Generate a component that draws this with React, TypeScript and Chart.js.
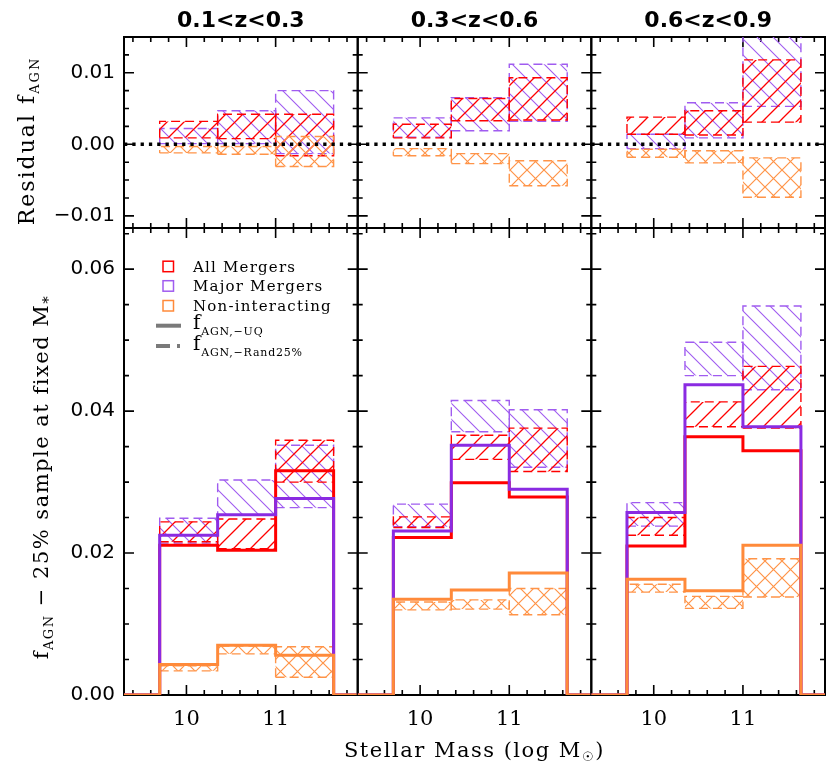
import React, { useEffect, useRef } from 'react';
import { Chart, registerables } from 'chart.js';

Chart.register(...registerables);

const W = 830;
const H = 774;

// ---------------- data ----------------
const binEdges = [9.7, 10.35, 11.0, 11.65];
const massRange = [9.3, 11.92];
const panelTitles = ['0.1<z<0.3', '0.3<z<0.6', '0.6<z<0.9'];
const massTicks = [10, 11];
const residTicks = [-0.01, 0.0, 0.01];
const fracTicks = [0.0, 0.02, 0.04, 0.06];
const residRange = [-0.0117, 0.015];
const fracRange = [0, 0.0658];

// Residual f_AGN bands: [panel][mass bin]
const residAllLow = [[0.0009, 0.0008, -0.0016], [0.0009, 0.0033, 0.0034], [0.0014, 0.0013, 0.0031]];
const residAllHigh = [[0.0032, 0.0042, 0.0042], [0.0028, 0.0064, 0.0093], [0.0038, 0.0047, 0.0118]];
const residMajorLow = [[0.0001, 0.0001, -0.0013], [0.0010, 0.0019, 0.0032], [-0.0006, 0.0009, 0.0053]];
const residMajorHigh = [[0.0022, 0.0047, 0.0075], [0.0037, 0.0065, 0.0112], [0.0014, 0.0058, 0.0160]];
const residNonLow = [[-0.0012, -0.0014, -0.0031], [-0.0016, -0.0027, -0.0058], [-0.0018, -0.0026, -0.0074]];
const residNonHigh = [[-0.0003, -0.0003, 0.0011], [-0.0006, -0.0013, -0.0023], [-0.0007, -0.0009, -0.0019]];

// f_AGN,-UQ (solid histograms)
const uqAll = [[0.0211, 0.0204, 0.0316], [0.0222, 0.0299, 0.0279], [0.0210, 0.0364, 0.0344]];
const uqMajor = [[0.0225, 0.0254, 0.0277], [0.0231, 0.0352, 0.0290], [0.0257, 0.0437, 0.0378]];
const uqNon = [[0.0043, 0.0070, 0.0056], [0.0135, 0.0148, 0.0172], [0.0163, 0.0147, 0.0211]];

// f_AGN,-Rand25% bands
const randAllLow = [[0.0216, 0.0206, 0.0300], [0.0236, 0.0332, 0.0315], [0.0225, 0.0378, 0.0376]];
const randAllHigh = [[0.0244, 0.0248, 0.0359], [0.0251, 0.0366, 0.0376], [0.0250, 0.0413, 0.0463]];
const randMajorLow = [[0.0214, 0.0254, 0.0264], [0.0237, 0.0371, 0.0321], [0.0238, 0.0450, 0.0430]];
const randMajorHigh = [[0.0249, 0.0303, 0.0352], [0.0269, 0.0415, 0.0402], [0.0271, 0.0497, 0.0548]];
const randNonLow = [[0.0034, 0.0058, 0.0025], [0.0120, 0.0121, 0.0113], [0.0145, 0.0122, 0.0138]];
const randNonHigh = [[0.0041, 0.0069, 0.0068], [0.0131, 0.0134, 0.0150], [0.0156, 0.0139, 0.0192]];

const legendNames = ['All Mergers', 'Major Mergers', 'Non-interacting'];

// ---------------- style ----------------
const RED = '#FF0000';
const PURPLE = '#8A2BE2';
const PURPLE_H = '#A05CF0';
const ORANGE = '#FF8A3A';
const ORANGE_H = '#FF9448';
const GREY = '#7A7A7A';

const colEdges = [124, 357.7, 591.3, 825];
const rowEdges = [37, 228, 695];

type Part = { t: string; size: number; dy: number; weight?: string };

function drawRich(ctx: CanvasRenderingContext2D, parts: Part[], x: number, y: number, align: 'left' | 'center', family: string, ls: number) {
  ctx.save();
  ctx.textBaseline = 'alphabetic';
  ctx.textAlign = 'left';
  ctx.fillStyle = '#000';
  const widths = parts.map((p) => {
    ctx.font = `${p.weight || 'normal'} ${p.size}px ${family}`;
    (ctx as any).letterSpacing = `${ls}px`;
    return ctx.measureText(p.t).width;
  });
  const total = widths.reduce((a, b) => a + b, 0);
  let cx = align === 'center' ? x - total / 2 : x;
  parts.forEach((p, i) => {
    ctx.font = `${p.weight || 'normal'} ${p.size}px ${family}`;
    (ctx as any).letterSpacing = `${ls}px`;
    ctx.fillText(p.t, cx, y + p.dy);
    cx += widths[i];
  });
  (ctx as any).letterSpacing = '0px';
  ctx.restore();
}

function makeHatch(color: string, kind: 'fwd' | 'back' | 'cross', s: number, lw: number) {
  const c = document.createElement('canvas');
  c.width = s;
  c.height = s;
  const g = c.getContext('2d')!;
  g.strokeStyle = color;
  g.lineWidth = lw;
  g.beginPath();
  if (kind === 'fwd' || kind === 'cross') {
    g.moveTo(0, s); g.lineTo(s, 0);
    g.moveTo(-s / 2, s / 2); g.lineTo(s / 2, -s / 2);
    g.moveTo(s / 2, s * 1.5); g.lineTo(s * 1.5, s / 2);
  }
  if (kind === 'back' || kind === 'cross') {
    g.moveTo(0, 0); g.lineTo(s, s);
    g.moveTo(-s / 2, s / 2); g.lineTo(s / 2, s * 1.5);
    g.moveTo(s / 2, -s / 2); g.lineTo(s * 1.5, s / 2);
  }
  g.stroke();
  return g.createPattern(c, 'repeat');
}

function minorValues(min: number, max: number, step: number) {
  const out: number[] = [];
  const k0 = Math.ceil(min / step - 1e-9);
  const k1 = Math.floor(max / step + 1e-9);
  for (let k = k0; k <= k1; k++) out.push(k * step);
  return out;
}

function fmtY(v: number) {
  const s = Math.abs(v).toFixed(2);
  return v < -1e-9 ? '\u2212' + s : s;
}

function buildConfig(row: number, col: number, pats: any) {
  const left = colEdges[col];
  const right = colEdges[col + 1];
  const top = rowEdges[row];
  const bottom = rowEdges[row + 1];
  const yRange = row === 0 ? residRange : fracRange;
  const yTicks = row === 0 ? residTicks : fracTicks;
  const yMinorStep = row === 0 ? 0.0025 : 0.005;
  const yAxisWidth = col === 0 ? left : 0;
  const xAxisHeight = row === 1 ? H - bottom : 0;

  const boxes = (lo: number[], hi: number[], color: string, pat: any) =>
    lo.map((l, i) => ({
      data: [
        { x: binEdges[i], y: l },
        { x: binEdges[i + 1], y: l },
        { x: binEdges[i + 1], y: hi[i] },
        { x: binEdges[i], y: hi[i] },
        { x: binEdges[i], y: l },
      ],
      borderColor: color,
      borderWidth: 1.4,
      borderDash: [9, 5],
      backgroundColor: pat,
      fill: 'shape',
      pointRadius: 0,
      tension: 0,
    }));

  const step = (vals: number[], color: string) => {
    const pts: { x: number; y: number }[] = [{ x: massRange[0], y: 0 }, { x: binEdges[0], y: 0 }];
    vals.forEach((v, i) => {
      pts.push({ x: binEdges[i], y: v }, { x: binEdges[i + 1], y: v });
    });
    pts.push({ x: binEdges[binEdges.length - 1], y: 0 }, { x: massRange[1], y: 0 });
    return {
      data: pts,
      borderColor: color,
      borderWidth: 3,
      borderJoinStyle: 'miter',
      borderCapStyle: 'butt',
      fill: false,
      pointRadius: 0,
      tension: 0,
    };
  };

  let datasets: any[] = [];
  if (row === 0) {
    datasets = [
      {
        data: [{ x: massRange[0], y: 0 }, { x: massRange[1], y: 0 }],
        borderColor: '#000',
        borderWidth: 3.5,
        borderDash: [3.3, 5],
        fill: false,
        pointRadius: 0,
      },
      ...boxes(residNonLow[col], residNonHigh[col], ORANGE_H, pats.orange),
      ...boxes(residAllLow[col], residAllHigh[col], RED, pats.red),
      ...boxes(residMajorLow[col], residMajorHigh[col], PURPLE_H, pats.purple),
    ];
  } else {
    datasets = [
      step(uqNon[col], ORANGE),
      step(uqMajor[col], PURPLE),
      step(uqAll[col], RED),
      ...boxes(randNonLow[col], randNonHigh[col], ORANGE_H, pats.orange),
      ...boxes(randAllLow[col], randAllHigh[col], RED, pats.red),
      ...boxes(randMajorLow[col], randMajorHigh[col], PURPLE_H, pats.purple),
    ];
  }

  const framePlugin = {
    id: 'frame' + row + col,
    beforeDatasetsDraw(chart: any) {
      const { ctx, chartArea: a, scales } = chart;
      const xs = scales.x;
      const ys = scales.y;
      ctx.save();
      ctx.strokeStyle = '#000';
      ctx.lineWidth = 1.6;
      ctx.beginPath();
      const xMinor = minorValues(massRange[0], massRange[1], 0.2);
      xMinor.forEach((v) => {
        const major = massTicks.some((m) => Math.abs(m - v) < 1e-6);
        const len = major ? 10 : 5;
        const px = xs.getPixelForValue(v);
        ctx.moveTo(px, a.bottom); ctx.lineTo(px, a.bottom - len);
        ctx.moveTo(px, a.top); ctx.lineTo(px, a.top + len);
      });
      const yMinor = minorValues(yRange[0], yRange[1], yMinorStep);
      yMinor.forEach((v) => {
        const major = yTicks.some((m) => Math.abs(m - v) < 1e-9);
        const len = major ? 10 : 5;
        const py = ys.getPixelForValue(v);
        ctx.moveTo(a.left, py); ctx.lineTo(a.left + len, py);
        ctx.moveTo(a.right, py); ctx.lineTo(a.right - len, py);
      });
      ctx.stroke();
      ctx.lineWidth = 2;
      ctx.strokeRect(a.left, a.top, a.right - a.left, a.bottom - a.top);
      ctx.restore();
    },
    afterDraw(chart: any) {
      const { ctx, chartArea: a } = chart;
      if (row === 0) {
        drawRich(ctx, [{ t: panelTitles[col], size: 22, dy: 0, weight: 'bold' }], (a.left + a.right) / 2, 26.7, 'center', '"DejaVu Sans"', 0);
      }
      if (row === 0 && col === 0) {
        ctx.save();
        ctx.translate(33.5, 141);
        ctx.rotate(-Math.PI / 2);
        drawRich(ctx, [
          { t: 'Residual f', size: 22, dy: 0 },
          { t: 'AGN', size: 13, dy: 5 },
        ], 0, 0, 'center', '"DejaVu Serif"', 2);
        ctx.restore();
      }
      if (row === 1 && col === 0) {
        ctx.save();
        ctx.translate(48, 477);
        ctx.rotate(-Math.PI / 2);
        drawRich(ctx, [
          { t: 'f', size: 21, dy: 0 },
          { t: 'AGN', size: 13, dy: 5 },
          { t: ' \u2212 25% sample at fixed M', size: 21, dy: 0 },
          { t: '*', size: 15, dy: 5 },
        ], 0, 0, 'center', '"DejaVu Serif"', 1.5);
        ctx.restore();

        // legend
        const colors = [RED, PURPLE_H, ORANGE];
        const baselines = [271.7, 291.2, 311];
        ctx.save();
        ctx.lineWidth = 1.5;
        legendNames.forEach((name, i) => {
          ctx.strokeStyle = colors[i];
          ctx.strokeRect(163, baselines[i] - 10.5, 10.5, 10.5);
          drawRich(ctx, [{ t: name, size: 15, dy: 0 }], 193, baselines[i], 'left', '"DejaVu Serif"', 1.2);
        });
        ctx.strokeStyle = GREY;
        ctx.lineWidth = 4;
        ctx.beginPath();
        ctx.moveTo(156, 325.7); ctx.lineTo(181, 325.7);
        ctx.stroke();
        ctx.setLineDash([14, 7, 3, 100]);
        ctx.beginPath();
        ctx.moveTo(156, 346); ctx.lineTo(181, 346);
        ctx.stroke();
        ctx.setLineDash([]);
        ctx.restore();
        drawRich(ctx, [{ t: 'f', size: 20, dy: 0 }, { t: 'AGN,\u2212UQ', size: 11, dy: 6 }], 193, 328.5, 'left', '"DejaVu Serif"', 0.8);
        drawRich(ctx, [{ t: 'f', size: 20, dy: 0 }, { t: 'AGN,\u2212Rand25%', size: 11, dy: 6 }], 193, 349.5, 'left', '"DejaVu Serif"', 0.8);
      }
      if (row === 1 && col === 1) {
        drawRich(ctx, [
          { t: 'Stellar Mass (log M', size: 21, dy: 0 },
          { t: '\u2609', size: 13, dy: 4 },
          { t: ')', size: 21, dy: 0 },
        ], (colEdges[0] + colEdges[3]) / 2, 757, 'center', '"DejaVu Serif"', 1.5);
      }
    },
  };

  return {
    type: 'line' as const,
    data: { datasets },
    plugins: [framePlugin],
    options: {
      responsive: false,
      maintainAspectRatio: false,
      animation: false as const,
      events: [],
      layout: { padding: { left: left - yAxisWidth, right: W - right, top, bottom: H - bottom - xAxisHeight } },
      plugins: { legend: { display: false }, tooltip: { enabled: false }, title: { display: false } },
      scales: {
        x: {
          type: 'linear' as const,
          min: massRange[0],
          max: massRange[1],
          grid: { display: false, drawTicks: false },
          border: { display: false },
          afterBuildTicks: (s: any) => { s.ticks = massTicks.map((v) => ({ value: v })); },
          afterFit: (s: any) => { s.height = xAxisHeight; s.paddingLeft = 0; s.paddingRight = 0; s.paddingTop = 0; s.paddingBottom = 0; },
          ticks: {
            display: row === 1,
            color: '#000',
            font: { family: '"DejaVu Serif"', size: 21 },
            padding: 12,
            maxRotation: 0,
            autoSkip: false,
            callback: (v: any) => String(v),
          },
        },
        y: {
          type: 'linear' as const,
          min: yRange[0],
          max: yRange[1],
          grid: { display: false, drawTicks: false },
          border: { display: false },
          afterBuildTicks: (s: any) => { s.ticks = yTicks.map((v) => ({ value: v })); },
          afterFit: (s: any) => { s.width = yAxisWidth; s.paddingLeft = 0; s.paddingRight = 0; s.paddingTop = 0; s.paddingBottom = 0; },
          ticks: {
            display: col === 0,
            color: '#000',
            font: { family: '"DejaVu Sans"', size: 20 },
            padding: 9,
            autoSkip: false,
            callback: (v: any) => fmtY(Number(v)),
          },
        },
      },
    },
  };
}

export default function App() {
  const refs = useRef<(HTMLCanvasElement | null)[]>([]);

  useEffect(() => {
    document.body.style.margin = '0';
    const pats = {
      red: makeHatch(RED, 'fwd', 17, 1.3),
      purple: makeHatch(PURPLE_H, 'back', 16, 1.1),
      orange: makeHatch(ORANGE_H, 'cross', 17, 1.2),
    };
    const charts: Chart[] = [];
    for (let r = 0; r < 2; r++) {
      for (let c = 0; c < 3; c++) {
        const canvas = refs.current[r * 3 + c];
        if (!canvas) continue;
        charts.push(new Chart(canvas, buildConfig(r, c, pats) as any));
      }
    }
    return () => charts.forEach((ch) => ch.destroy());
  }, []);

  return (
    <div style={{ position: 'relative', width: W, height: H, background: '#fff' }}>
      {[0, 1, 2, 3, 4, 5].map((i) => (
        <canvas
          key={i}
          ref={(el) => { refs.current[i] = el; }}
          width={W}
          height={H}
          style={{ position: 'absolute', left: 0, top: 0, width: W, height: H }}
        />
      ))}
    </div>
  );
}
